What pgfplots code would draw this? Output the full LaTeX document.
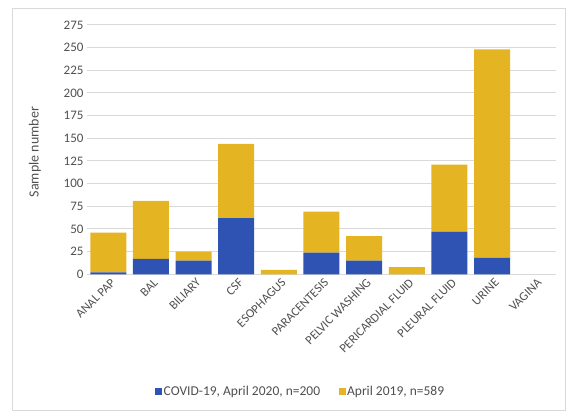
\documentclass[border=0pt]{standalone}
\usepackage{pgfplots}
\pgfplotsset{compat=1.18}
\usepackage{fontspec}
\setmainfont{Carlito}
\definecolor{cblue}{RGB}{47,83,178}
\definecolor{cyel}{RGB}{229,180,35}
\definecolor{txt}{RGB}{80,80,80}
\definecolor{gridc}{RGB}{217,217,217}
\begin{document}
\begin{tikzpicture}[x=1pt,y=1pt]
\path (0,0) rectangle (566,411);
\draw[gridc] (12,1) rectangle (565.5,403);
\begin{axis}[
  at={(87pt,136.7pt)}, anchor=south west,
  scale only axis, width=469pt, height=249.3pt,
  xmin=-0.5, xmax=10.5, ymin=0, ymax=275,
  ybar stacked, bar width=36pt,
  ytick={0,25,...,275},
  ymajorgrids, grid style={gridc, line width=1pt},
  axis line style={draw=none}, tick style={draw=none},
  /pgf/number format/assume math mode=true,
  xtick=data,
  xticklabels={ANAL PAP,BAL,BILIARY,CSF,ESOPHAGUS,PARACENTESIS,PELVIC WASHING,PERICARDIAL FLUID,PLEURAL FLUID,URINE,VAGINA},
  x tick label style={rotate=45, anchor=east, font=\fontsize{12.5}{14}\selectfont, text=txt, inner sep=1pt, yshift=-8pt},
  y tick label style={font=\fontsize{13}{15}\selectfont, text=txt},
  ylabel={Sample number},
  ylabel style={at={(axis description cs:-0.111,0.49)}, anchor=center, font=\fontsize{14}{16}\selectfont, text=txt},
  legend columns=2,
  legend style={draw=none, at={(axis description cs:0.455,-0.47)}, anchor=center, font=\fontsize{13.5}{15}\selectfont, text=txt, nodes={inner sep=1.5pt}},
  legend image code/.code={\fill[#1] (0pt,-3.5pt) rectangle (7pt,3.5pt);},
]
\addplot[fill=cblue, draw=none] coordinates {(0,2) (1,17) (2,15) (3,62) (4,0) (5,24) (6,15) (7,0) (8,47) (9,18) (10,0)};
\addlegendentry{COVID-19, April 2020, n=200\rule{17pt}{0pt}}
\addplot[fill=cyel, draw=none] coordinates {(0,44) (1,64) (2,10) (3,82) (4,5) (5,45) (6,27) (7,8) (8,74) (9,230) (10,0)};
\addlegendentry{April 2019, n=589}
\end{axis}
\end{tikzpicture}
\end{document}
